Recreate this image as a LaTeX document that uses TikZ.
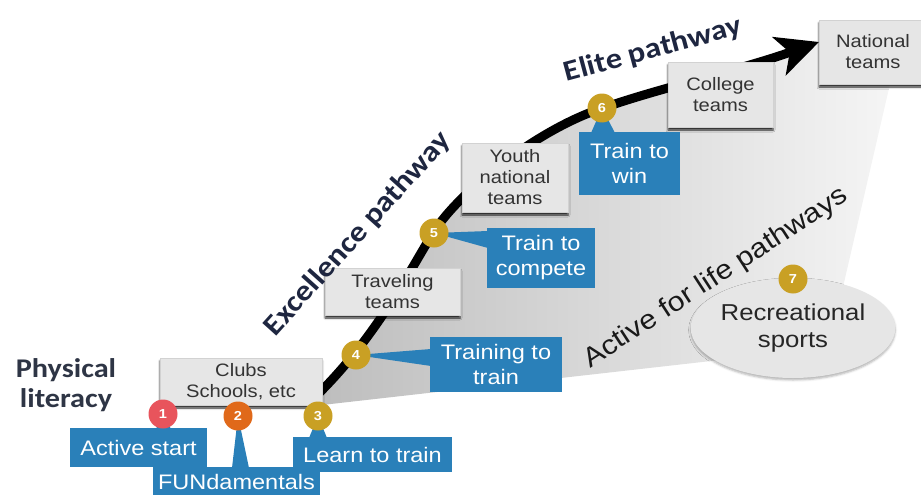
\documentclass[tikz,border=0pt]{standalone}
\usepackage{fontspec}
\setmainfont{Liberation Sans}[FakeStretch=1.12]
\newfontfamily\calib{Carlito}[FakeStretch=1.12]
\usetikzlibrary{arrows.meta,shapes.geometric,shadows.blur,calc}
\definecolor{pblue}{HTML}{2A80B9}
\definecolor{goldc}{HTML}{C9A024}
\definecolor{redc}{HTML}{E8545C}
\definecolor{orangec}{HTML}{E0691A}
\definecolor{boxgray}{HTML}{E6E6E6}
\definecolor{navy}{HTML}{1E2640}
\definecolor{physc}{HTML}{2E3545}
\begin{document}
\begin{tikzpicture}[x=1pt,y=-1pt,
  graybox/.style={fill=boxgray, draw=gray!35, line width=0.3pt,
    blur shadow={shadow xshift=0pt, shadow yshift=-3pt, shadow blur steps=4, shadow opacity=85, shadow blur radius=2pt},
    text=black!80, font=\fontsize{18}{21}\selectfont, align=center, inner sep=0pt},
  bluebox/.style={fill=pblue, text=white, font=\fontsize{21}{25}\selectfont, align=center, inner sep=0pt},
  num/.style={circle, fill=goldc, text=white, font=\bfseries\fontsize{13}{13}\selectfont, minimum size=29pt, inner sep=0pt},
  pointer/.style={fill=pblue},
  bigtitle/.style={text=navy, font=\calib\bfseries\fontsize{29}{32}\selectfont, inner sep=0pt},
]
\useasboundingbox (0,0) rectangle (921,495);
% shaded pathway region
\shade[left color=gray!52, right color=gray!8]
  (312,400) .. controls (375,340) and (410,270) .. (433,233)
  .. controls (460,190) and (540,128) .. (603,108)
  .. controls (660,88) and (740,70) .. (818,42)
  -- (840,84) -- (890,84) -- (840,300) -- (720,360) -- (322,405) -- cycle;
% main pathway curve
\coordinate (cs) at (312,400);
\coordinate (ce) at (819,42);
\draw[line width=9pt, -{Stealth[length=42pt,width=40pt,inset=11pt]}]
  (cs) .. controls (375,340) and (410,270) .. (433,233)
  .. controls (460,190) and (540,128) .. (603,108)
  .. controls (660,88) and (740,70) .. (ce);
% gray boxes
\node[graybox, minimum width=162pt, minimum height=47pt] (clubs) at (241,381.5) {Clubs\\Schools, etc};
\node[graybox, minimum width=135pt, minimum height=47pt] (trav) at (392.5,291.5) {Traveling\\teams};
\node[graybox, minimum width=106pt, minimum height=69pt] (youth) at (515,177.5) {Youth\\national\\teams};
\node[graybox, minimum width=105pt, minimum height=65pt] (coll) at (720.5,94.5) {College\\teams};
\node[graybox, minimum width=108pt, minimum height=64pt] (natl) at (873,52) {National\\teams};
% circle positions
\coordinate (p1) at (163,414);
\coordinate (p2) at (238,416);
\coordinate (p3) at (318,416);
\coordinate (p4) at (356,355);
\coordinate (p5) at (434,233);
\coordinate (p6) at (602,108);
% blue boxes
\node[bluebox, minimum width=137pt, minimum height=39pt] (b1) at (138.5,447.5) {Active start};
\node[bluebox, minimum width=167pt, minimum height=30pt] (b2) at (236.5,482) {FUNdamentals};
\node[bluebox, minimum width=159pt, minimum height=35pt] (b3) at (372.5,454.5) {Learn to train};
\node[bluebox, minimum width=132pt, minimum height=55pt] (b4) at (496,364.5) {Training to\\train};
\node[bluebox, minimum width=108pt, minimum height=60pt] (b5) at (541,258) {Train to\\compete};
\node[bluebox, minimum width=101pt, minimum height=63pt] (b6) at (629.5,163.5) {Train to\\win};
% pointers
\fill[pointer] (156,429) -- (171,429) -- (p1) -- cycle;
\fill[pointer] (232,468) -- (249,468) -- (p2) -- cycle;
\fill[pointer] (309,438) -- (327,438) -- (p3) -- cycle;
\fill[pointer] (431,349) -- (431,366) -- (p4) -- cycle;
\fill[pointer] (488,231) -- (488,248) -- (p5) -- cycle;
\fill[pointer] (591,133) -- (615,133) -- (p6) -- cycle;
% numbered circles
\node[num, fill=redc] (c1) at (p1) {1};
\node[num, fill=orangec] (c2) at (p2) {2};
\node[num] (c3) at (p3) {3};
\node[num] (c4) at (p4) {4};
\node[num] (c5) at (p5) {5};
\node[num] (c6) at (p6) {6};
% recreational sports
\node[ellipse, fill=boxgray, minimum width=200pt, minimum height=100pt, inner sep=0pt,
  blur shadow={shadow xshift=0pt, shadow yshift=-2pt, shadow blur steps=4, shadow opacity=30},
  font=\fontsize{23}{27}\selectfont, align=center, text=black!85] (rec) at (793,328) {Recreational\\sports};
\node[num] (c7) at (793,279) {7};
% titles
\node[text=physc, font=\calib\bfseries\fontsize{27}{30}\selectfont, anchor=base, inner sep=0pt] (phys1) at (66,377) {Physical};
\node[text=physc, font=\calib\bfseries\fontsize{27}{30}\selectfont, anchor=base, inner sep=0pt] (phys2) at (66,407) {literacy};
\node[bigtitle, rotate=48] (excel) at (358,234) {Excellence pathway};
\node[bigtitle, rotate=15] (elite) at (653,50) {Elite pathway};
\node[text=black!90, font=\fontsize{27}{30}\selectfont, rotate=33, inner sep=0pt] (afl) at (716,278) {Active for life pathways};
\end{tikzpicture}
\end{document}
